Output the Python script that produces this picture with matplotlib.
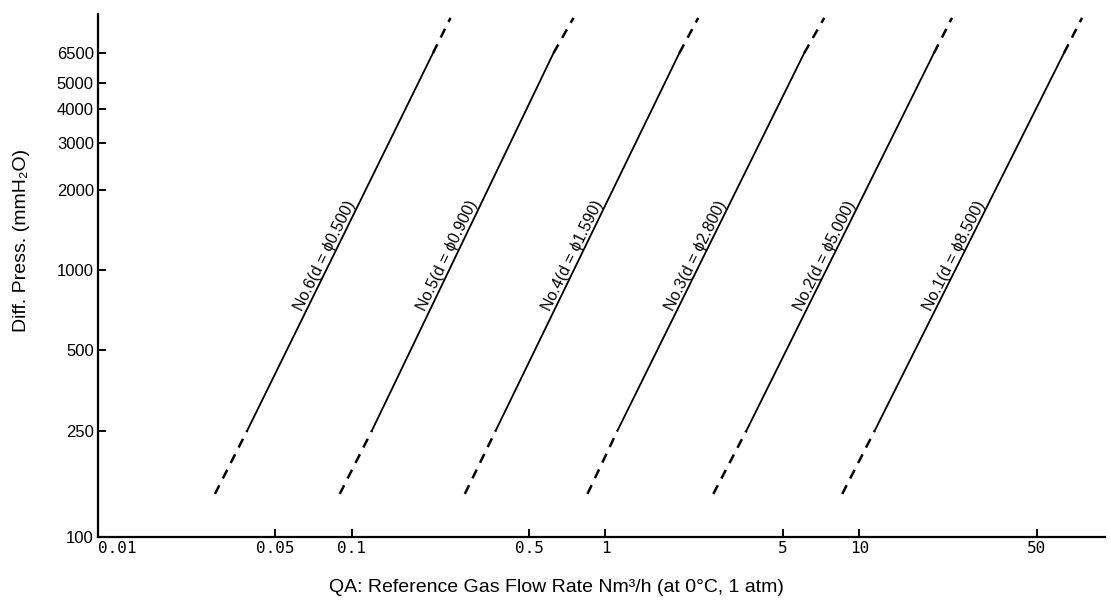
import numpy as np
import matplotlib
matplotlib.use("Agg")
import matplotlib.pyplot as plt

plt.rcParams['font.family'] = ['Liberation Sans', 'DejaVu Sans']
plt.rcParams['lines.scale_dashes'] = False

# pressure levels (mmH2O): dashed start, solid start, solid end, dashed end
dp_levels = [145, 250, 6500, 8800]

# flow rate (Nm3/h) of each orifice line at those pressure levels
q_no6 = [0.0289, 0.0387, 0.209, 0.245]
q_no5 = [0.0897, 0.120, 0.624, 0.748]
q_no4 = [0.279, 0.369, 1.955, 2.32]
q_no3 = [0.849, 1.114, 6.07, 7.28]
q_no2 = [2.66, 3.59, 19.7, 23.2]
q_no1 = [8.57, 11.5, 64.1, 75.5]

names = ["No.6", "No.5", "No.4", "No.3", "No.2", "No.1"]
diams = ["0.500", "0.900", "1.590", "2.800", "5.000", "8.500"]
flows = [q_no6, q_no5, q_no4, q_no3, q_no2, q_no1]
label_dp = 1100

xticks = [0.01, 0.05, 0.1, 0.5, 1, 5, 10, 50]
xticklabels = ["0.01", "0.05", "0.1", "0.5", "1", "5", "10", "50"]
yticks = [100, 250, 500, 1000, 2000, 3000, 4000, 5000, 6500]
yticklabels = ["100", "250", "500", "1000", "2000", "3000", "4000", "5000", "6500"]

fig = plt.figure(figsize=(11.11, 6.05), dpi=100)
ax = fig.add_axes([98 / 1111, 68 / 605, 1007 / 1111, 523 / 605])
ax.set_xscale('log')
ax.set_yscale('log')
ax.set_xlim(0.01, 93)
ax.set_ylim(100, 9100)

for name, d, q in zip(names, diams, flows):
    ax.plot(q[0:2], dp_levels[0:2], color='black', lw=1.8, dashes=(7, 5.5),
            solid_capstyle='butt')
    ax.plot(q[1:3], dp_levels[1:3], color='black', lw=1.3)
    ax.plot(q[2:4], dp_levels[2:4], color='black', lw=1.8, dashes=(7, 5.5))
    # label along the line
    p0 = ax.transData.transform((q[1], dp_levels[1]))
    p1 = ax.transData.transform((q[2], dp_levels[2]))
    ang = np.degrees(np.arctan2(p1[1] - p0[1], p1[0] - p0[0]))
    lq = 10 ** np.interp(np.log10(label_dp), np.log10(dp_levels[1:3]),
                         np.log10(q[1:3]))
    ax.text(lq, label_dp, name + "(d = \u03d5" + d + ")", rotation=ang,
            rotation_mode='anchor', ha='center', va='bottom', fontsize=11.5,
            family=['Liberation Sans', 'DejaVu Sans'])

for s in ['top', 'right']:
    ax.spines[s].set_visible(False)
for s in ['left', 'bottom']:
    ax.spines[s].set_linewidth(1.6)

ax.xaxis.set_minor_locator(matplotlib.ticker.NullLocator())
ax.yaxis.set_minor_locator(matplotlib.ticker.NullLocator())
ax.set_xticks(xticks)
ax.set_xticklabels(xticklabels, family='DejaVu Sans Mono', fontsize=11.5)
ax.set_yticks(yticks)
ax.set_yticklabels(yticklabels, fontsize=12)
ax.tick_params(axis='both', direction='in', length=6, width=1.4, pad=3)
ax.get_xticklabels()[0].set_ha('left')

fig.text(22 / 1111, 1 - 240 / 605, "Diff. Press. (mmH\u2082O)", rotation=90,
         ha='center', va='center', fontsize=14)
fig.text(556 / 1111, 1 - 588 / 605,
         "QA: Reference Gas Flow Rate Nm\u00b3/h (at 0\u00b0C, 1 atm)",
         ha='center', va='center', fontsize=14)

fig.savefig("out.png", dpi=100)
